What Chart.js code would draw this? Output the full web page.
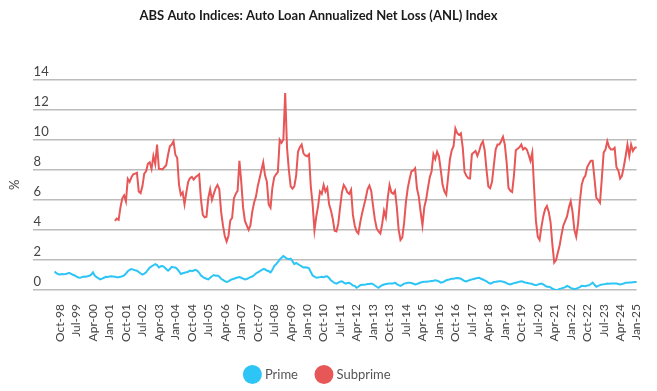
<!DOCTYPE html>
<html>
<head>
<meta charset="utf-8">
<script src="https://cdn.jsdelivr.net/npm/chart.js@4.4.1/dist/chart.umd.min.js"></script>
<style>
  html, body { margin: 0; padding: 0; background: #fff; }
</style>
</head>
<body>
<canvas id="myChart" width="657" height="391"></canvas>
<script>
// months on the axis run Jul-97 .. Jan-25 (left margin before the data starts)
const monthNames = ['Jan', 'Feb', 'Mar', 'Apr', 'May', 'Jun', 'Jul', 'Aug', 'Sep', 'Oct', 'Nov', 'Dec'];
const months = [];
for (let k = 0; k < 331; k++) {
  const m = (6 + k) % 12;
  const y = 1997 + Math.floor((6 + k) / 12);
  months.push(monthNames[m] + '-' + String(y).slice(2));
}

const tickLabels = ['Oct-98', 'Jul-99', 'Apr-00', 'Jan-01', 'Oct-01', 'Jul-02', 'Apr-03', 'Jan-04', 'Oct-04',
  'Jul-05', 'Apr-06', 'Jan-07', 'Oct-07', 'Jul-08', 'Apr-09', 'Jan-10', 'Oct-10', 'Jul-11', 'Apr-12',
  'Jan-13', 'Oct-13', 'Jul-14', 'Apr-15', 'Jan-16', 'Oct-16', 'Jul-17', 'Apr-18', 'Jan-19', 'Oct-19',
  'Jul-20', 'Apr-21', 'Jan-22', 'Oct-22', 'Jul-23', 'Apr-24', 'Jan-25'];

// Prime ANL, Jul-98 .. Jan-25
const primeStart = 'Jul-98';
const prime = [
  1.23, 1.12, 1.05, 1.03, 1.06, 1.05,
  1.07, 1.10, 1.14, 1.08, 1.02, 0.97, 0.90, 0.84, 0.82, 0.86, 0.90, 0.89,
  0.92, 0.95, 1.02, 1.18, 0.95, 0.86, 0.78, 0.71, 0.76, 0.82, 0.88, 0.87,
  0.90, 0.92, 0.90, 0.88, 0.86, 0.85, 0.88, 0.92, 0.97, 1.10, 1.25, 1.35,
  1.40, 1.36, 1.32, 1.29, 1.20, 1.10, 1.03, 1.10, 1.18, 1.35, 1.50, 1.57,
  1.65, 1.72, 1.66, 1.50, 1.58, 1.60, 1.52, 1.40, 1.29, 1.40, 1.55, 1.52,
  1.50, 1.40, 1.25, 1.07, 1.12, 1.15, 1.18, 1.22, 1.29, 1.25, 1.30, 1.35,
  1.28, 1.15, 0.97, 0.88, 0.80, 0.75, 0.71, 0.82, 0.92, 1.00, 0.95, 0.97,
  0.90, 0.75, 0.68, 0.60, 0.54, 0.58, 0.66, 0.72, 0.75, 0.80, 0.84, 0.86,
  0.82, 0.76, 0.71, 0.74, 0.80, 0.86, 0.90, 0.98, 1.10, 1.18, 1.25, 1.32,
  1.40, 1.38, 1.30, 1.25, 1.18, 1.35, 1.60, 1.72, 1.85, 2.04, 2.15, 2.26,
  2.18, 2.09, 2.05, 2.09, 1.92, 1.72, 1.80, 1.72, 1.65, 1.58, 1.50, 1.52,
  1.50, 1.45, 1.20, 0.97, 0.90, 0.82, 0.84, 0.86, 0.88, 0.86, 0.90, 0.92,
  0.80, 0.65, 0.55, 0.48, 0.43, 0.49, 0.55, 0.58, 0.50, 0.43, 0.47, 0.49,
  0.40, 0.30, 0.28, 0.15, 0.22, 0.32, 0.35, 0.36, 0.37, 0.40, 0.41, 0.43,
  0.40, 0.30, 0.22, 0.15, 0.25, 0.32, 0.37, 0.40, 0.42, 0.43, 0.44, 0.43,
  0.49, 0.40, 0.33, 0.28, 0.35, 0.43, 0.45, 0.48, 0.49, 0.47, 0.42, 0.37,
  0.40, 0.45, 0.50, 0.54, 0.55, 0.56, 0.57, 0.58, 0.60, 0.62, 0.65, 0.63,
  0.57, 0.49, 0.52, 0.58, 0.65, 0.68, 0.72, 0.75, 0.76, 0.78, 0.80, 0.78,
  0.75, 0.68, 0.60, 0.58, 0.63, 0.67, 0.71, 0.74, 0.77, 0.80, 0.82, 0.75,
  0.70, 0.65, 0.58, 0.50, 0.43, 0.47, 0.54, 0.55, 0.57, 0.58, 0.58, 0.56,
  0.52, 0.46, 0.40, 0.37, 0.42, 0.46, 0.49, 0.52, 0.56, 0.58, 0.55, 0.50,
  0.48, 0.45, 0.43, 0.40, 0.35, 0.32, 0.36, 0.40, 0.43, 0.38, 0.30, 0.22,
  0.22, 0.18, 0.10, 0.04, 0.00, 0.03, 0.08, 0.11, 0.15, 0.20, 0.28, 0.22,
  0.15, 0.10, 0.06, 0.08, 0.15, 0.20, 0.28, 0.27, 0.26, 0.30, 0.32, 0.40,
  0.49, 0.35, 0.22, 0.28, 0.33, 0.37, 0.38, 0.40, 0.43, 0.42, 0.43, 0.44,
  0.43, 0.43, 0.40, 0.37, 0.40, 0.44, 0.49, 0.48, 0.50, 0.51, 0.52, 0.53,
  0.54
];

// Subprime ANL, Apr-01 .. Jan-25
const subprimeStart = 'Apr-01';
const subprime = [
  4.60, 4.75, 4.67, 5.50, 6.10, 6.30, 5.90, 7.40, 7.20,
  7.50, 7.70, 7.75, 7.80, 6.56, 6.45, 6.90, 7.74, 7.90, 8.40, 8.50, 8.06,
  8.92, 8.39, 9.68, 8.06, 8.05, 8.02, 8.17, 8.30, 9.00, 9.57, 9.68, 9.90,
  9.00, 8.80, 7.00, 6.34, 6.50, 5.70, 6.50, 7.20, 7.45, 7.53, 7.35, 7.50,
  7.60, 7.70, 6.00, 5.00, 4.84, 4.88, 6.13, 6.70, 6.00, 6.40, 6.77, 6.99,
  6.70, 5.20, 4.30, 3.60, 3.23, 3.60, 4.62, 4.80, 6.10, 6.40, 6.60, 8.60,
  7.20, 5.50, 4.60, 4.30, 4.00, 4.30, 5.20, 5.81, 6.20, 6.90, 7.42, 7.96,
  8.50, 7.63, 7.20, 5.70, 5.48, 6.80, 7.50, 7.70, 7.85, 10.00, 9.80, 10.00,
  13.10, 9.50, 8.00, 6.90, 6.75, 6.90, 7.63, 9.20, 9.50, 9.68, 9.10, 8.95,
  8.90, 9.03, 6.88, 5.70, 3.98, 4.90, 5.60, 6.56, 6.40, 6.99, 6.56, 6.80,
  5.70, 5.30, 4.73, 3.95, 3.90, 4.40, 5.50, 6.50, 6.99, 6.80, 6.50, 6.40,
  6.67, 5.00, 4.30, 3.90, 3.76, 4.50, 5.10, 5.60, 6.10, 6.70, 6.95, 6.60,
  5.60, 4.70, 4.10, 3.90, 3.76, 4.40, 5.27, 4.84, 6.10, 6.99, 6.50, 6.40,
  6.60, 5.50, 4.00, 3.33, 3.50, 4.50, 5.90, 6.80, 7.40, 7.90, 7.96, 8.10,
  6.77, 6.20, 5.20, 4.30, 5.50, 6.02, 6.80, 7.50, 7.90, 9.03, 8.71, 9.20,
  8.90, 8.00, 7.00, 6.56, 6.34, 7.50, 8.70, 9.30, 9.57, 10.75, 10.43, 10.32,
  10.43, 9.50, 7.85, 7.60, 7.45, 7.42, 9.03, 9.15, 9.25, 8.92, 9.25, 9.68,
  9.90, 9.30, 8.00, 6.88, 6.77, 7.20, 8.30, 9.35, 9.68, 9.68, 9.90, 10.20,
  9.68, 8.50, 6.80, 6.60, 6.52, 7.63, 9.30, 9.40, 9.50, 9.68, 9.35, 9.46,
  9.35, 9.00, 8.60, 9.14, 6.77, 4.60, 3.55, 3.33, 4.19, 4.90, 5.38, 5.59,
  5.20, 4.50, 3.00, 1.83, 2.00, 2.50, 3.00, 3.70, 4.30, 4.60, 4.90, 5.50,
  5.91, 5.20, 4.00, 3.55, 4.41, 5.90, 7.00, 7.42, 7.60, 8.17, 8.40, 8.60,
  8.60, 7.40, 6.13, 6.00, 5.81, 7.42, 9.14, 9.35, 9.90, 9.50, 9.35, 9.35,
  9.46, 8.17, 7.96, 7.42, 7.60, 8.20, 8.90, 9.68, 8.92, 9.68, 9.25, 9.46,
  9.50
];

function alignTo(start, values) {
  const lead = months.indexOf(start);
  return Array(lead).fill(null).concat(values);
}

const fontFamily = 'Lato, "Open Sans", sans-serif';

const data = {
  labels: months,
  datasets: [{
    label: 'Prime',
    data: alignTo(primeStart, prime),
    borderColor: '#2dc5f5',
    backgroundColor: '#2dc5f5',
    borderWidth: 2,
    pointRadius: 0,
    pointStyle: 'circle',
    tension: 0
  }, {
    label: 'Subprime',
    data: alignTo(subprimeStart, subprime),
    borderColor: '#e85757',
    backgroundColor: '#e85757',
    borderWidth: 2,
    pointRadius: 0,
    pointStyle: 'circle',
    tension: 0
  }]
};

const config = {
  type: 'line',
  data: data,
  options: {
    responsive: false,
    animation: false,
    layout: {
      padding: { left: 0, right: 20, top: 0, bottom: 0 }
    },
    plugins: {
      title: {
        display: true,
        text: 'ABS Auto Indices: Auto Loan Annualized Net Loss (ANL) Index',
        color: '#1a1a1a',
        font: { family: fontFamily, size: 13, weight: 'bold' },
        padding: { top: 8, bottom: 56 }
      },
      legend: {
        position: 'bottom',
        labels: {
          usePointStyle: true,
          boxWidth: 12,
          boxHeight: 12,
          padding: 20,
          color: '#555',
          font: { family: fontFamily, size: 13 }
        }
      },
      tooltip: { enabled: false }
    },
    scales: {
      x: {
        grid: { display: false },
        border: { display: false },
        afterBuildTicks: (scale) => {
          scale.ticks = scale.ticks.filter(t => tickLabels.includes(months[t.value]));
        },
        ticks: {
          autoSkip: false,
          minRotation: 90,
          maxRotation: 90,
          padding: 6,
          color: '#444',
          font: { family: fontFamily, size: 12 }
        }
      },
      y: {
        min: 0,
        max: 14,
        border: { display: false },
        grid: { color: '#bcbcbc', lineWidth: 1.5, drawTicks: false },
        ticks: {
          stepSize: 2,
          mirror: true,
          labelOffset: -8,
          padding: 1,
          color: '#444',
          font: { family: fontFamily, size: 13 }
        },
        title: {
          display: true,
          text: '%',
          color: '#444',
          font: { family: fontFamily, size: 13 },
          padding: { top: 7, bottom: 8 }
        }
      }
    }
  }
};

const ctx = document.getElementById('myChart').getContext('2d');
let myChart = new Chart(ctx, config);
</script>
</body>
</html>
